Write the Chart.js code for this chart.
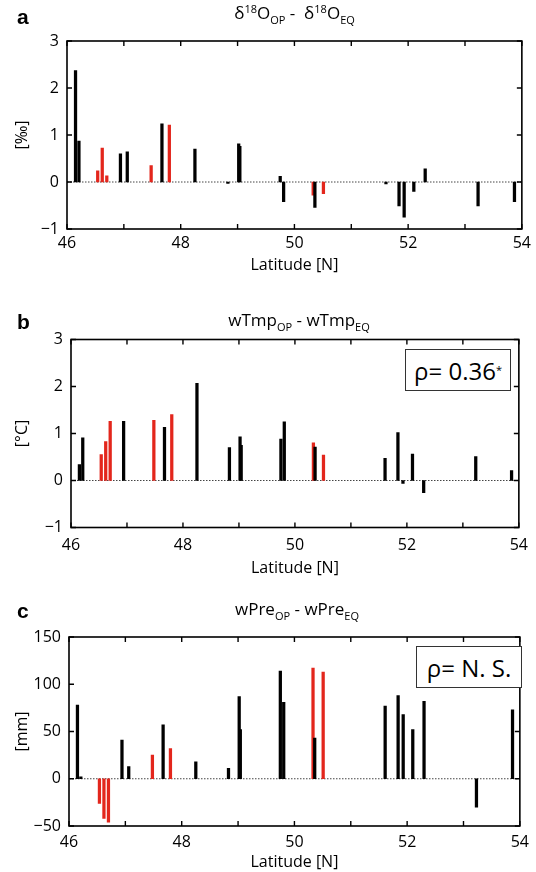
<!DOCTYPE html>
<html>
<head>
<meta charset="utf-8">
<script src="https://cdn.jsdelivr.net/npm/chart.js@4.4.1/dist/chart.umd.min.js"></script>
<style>
  body { margin: 0; background: #fff; }
  #wrap { position: relative; width: 536px; height: 872px; overflow: hidden; font-family: "Open Sans", sans-serif; }
  canvas { position: absolute; left: 0; }
  .ttl { position: absolute; text-align: center; font-size: 17px; line-height: 20px; white-space: pre; color: #000; }
  .ttl sub { font-size: 11px; vertical-align: -5px; line-height: 0; }
  .ttl sup { font-size: 11px; vertical-align: 6px; line-height: 0; }
  .lett { position: absolute; left: 17px; font: bold 21px "Liberation Sans", Arial, sans-serif; line-height: 20px; }
  .rho { position: absolute; border: 1px solid #333; background: #fff; display: flex; align-items: center; justify-content: center; font-size: 24px; }
  .rho sup { font-size: 11px; vertical-align: 10px; line-height: 0; }
</style>
</head>
<body>
<div id="wrap">
  <canvas id="chartA" width="536" height="285"></canvas>
  <canvas id="chartB" width="536" height="290"></canvas>
  <canvas id="chartC" width="536" height="292"></canvas>

  <div class="lett" style="top:7px">a</div>
  <div class="lett" style="top:312px">b</div>
  <div class="lett" style="top:601px">c</div>

  <div class="ttl" style="left:67px; width:455px; top:3px">δ<sup>18</sup>O<sub>OP</sub> -  δ<sup>18</sup>O<sub>EQ</sub></div>
  <div class="ttl" style="left:71px; width:456px; top:310px">wTmp<sub>OP</sub> - wTmp<sub>EQ</sub></div>
  <div class="ttl" style="left:69px; width:456px; top:599px">wPre<sub>OP</sub> - wPre<sub>EQ</sub></div>

  <div class="rho" style="left:405px; top:349px; width:104px; height:40px">ρ= 0.36<sup>*</sup></div>
  <div class="rho" style="left:416px; top:646px; width:104px; height:40px">ρ= N. S.</div>
</div>

<script>
// station latitudes (same sites in all three panels)
var siteLat = [46.15, 46.21, 46.54, 46.62, 46.70, 46.94, 47.06, 47.48, 47.67, 47.80,
               48.25, 48.83, 49.02, 49.04, 49.75, 49.81, 50.33, 50.36, 50.51, 51.61,
               51.84, 51.93, 52.10, 52.30, 53.23, 53.87];
// 1 = red stem
var siteRed = [0, 0, 1, 1, 1, 0, 0, 1, 0, 1,
               0, 0, 0, 0, 0, 0, 1, 0, 1, 0,
               0, 0, 0, 0, 0, 0];

// a: d18O OP - EQ [permil]
var d18O = [2.37, 0.87, 0.24, 0.72, 0.13, 0.60, 0.64, 0.35, 1.24, 1.21,
            0.70, -0.03, 0.81, 0.76, 0.12, -0.42, -0.28, -0.54, -0.25, -0.04,
            -0.51, -0.75, -0.20, 0.28, -0.51, -0.42];
// b: wTmp OP - EQ [degC]
var wTmp = [0.34, 0.91, 0.55, 0.83, 1.26, 1.26, null, 1.28, 1.13, 1.40,
            2.07, 0.70, 0.93, 0.75, 0.88, 1.25, 0.80, 0.71, 0.54, 0.47,
            1.02, -0.06, 0.56, -0.26, 0.51, 0.21];
// c: wPre OP - EQ [mm]
var wPre = [78, 2, -26, -42, -46, 41, 13, 25, 57, 32,
            18, 11, 87, 52, 114, 81, 117, 43, 113, 77,
            88, 68, 52, 82, -30, 73];

var latTicks = [46, 48, 50, 52, 54];

var RED = "#e3261c";
var BLACK = "#000000";
var FONT = "'Open Sans', sans-serif";

// box, inward ticks and dotted zero line
var framePlugin = {
    id: "frame",
    beforeDatasetsDraw: function (chart) {
        var ctx = chart.ctx, a = chart.chartArea;
        var y0 = chart.scales.y.getPixelForValue(0);
        ctx.save();
        ctx.strokeStyle = "#444";
        ctx.lineWidth = 1;
        ctx.setLineDash([1.5, 1.5]);
        ctx.beginPath();
        ctx.moveTo(a.left, y0);
        ctx.lineTo(a.right, y0);
        ctx.stroke();
        ctx.restore();
    },
    afterDatasetsDraw: function (chart) {
        var ctx = chart.ctx, a = chart.chartArea;
        var sx = chart.scales.x, sy = chart.scales.y;
        var tl = 5;
        ctx.save();
        ctx.strokeStyle = "#000";
        ctx.lineWidth = 1.6;
        ctx.strokeRect(a.left, a.top, a.right - a.left, a.bottom - a.top);
        ctx.lineWidth = 1.4;
        ctx.beginPath();
        sx.ticks.forEach(function (t) {
            var px = sx.getPixelForValue(t.value);
            ctx.moveTo(px, a.bottom); ctx.lineTo(px, a.bottom - tl);
            ctx.moveTo(px, a.top); ctx.lineTo(px, a.top + tl);
        });
        sy.ticks.forEach(function (t) {
            var py = sy.getPixelForValue(t.value);
            ctx.moveTo(a.left, py); ctx.lineTo(a.left + tl, py);
            ctx.moveTo(a.right, py); ctx.lineTo(a.right - tl, py);
        });
        ctx.stroke();
        ctx.restore();
    }
};

function makeChart(id, p) {
    var pts = [];
    var cols = [];
    siteLat.forEach(function (lat, i) {
        if (p.values[i] === null) return;
        pts.push({ x: lat, y: p.values[i] });
        cols.push(siteRed[i] ? RED : BLACK);
    });
    var xH = p.height - (p.plotBottom - p.top);
    var titlePadBottom = Math.max(0, xH - p.titleGap - 9.6);

    return new Chart(document.getElementById(id), {
        type: "bar",
        data: {
            datasets: [{
                data: pts,
                backgroundColor: cols,
                borderWidth: 0,
                barThickness: 2.6
            }]
        },
        options: {
            responsive: false,
            animation: false,
            devicePixelRatio: 1,
            layout: {
                padding: { top: p.plotTop - p.top, right: 536 - p.right, bottom: 0, left: 0 }
            },
            plugins: {
                legend: { display: false },
                tooltip: { enabled: false }
            },
            scales: {
                x: {
                    type: "linear",
                    offset: false,
                    min: 46,
                    max: 54,
                    grid: { display: false, drawTicks: false },
                    border: { display: false },
                    ticks: {
                        stepSize: 1,
                        autoSkip: false,
                        maxRotation: 0,
                        padding: p.tickPad,
                        color: "#000",
                        font: { family: FONT, size: 16 },
                        callback: function (v) { return latTicks.indexOf(v) >= 0 ? String(v) : ""; }
                    },
                    title: {
                        display: true,
                        text: "Latitude [N]",
                        color: "#000",
                        font: { family: FONT, size: 16 },
                        padding: { top: 0, bottom: titlePadBottom }
                    },
                    afterFit: function (s) { s.height = xH; }
                },
                y: {
                    min: p.yMin,
                    max: p.yMax,
                    grid: { display: false, drawTicks: false },
                    border: { display: false },
                    ticks: {
                        stepSize: p.yStep,
                        padding: 8,
                        color: "#000",
                        font: { family: FONT, size: 16 },
                        callback: function (v) { return v < 0 ? "\u2212" + Math.abs(v) : String(v); }
                    },
                    title: {
                        display: true,
                        text: p.yLabel,
                        color: "#000",
                        font: { family: FONT, size: 16 },
                        padding: { top: 13, bottom: 0 }
                    },
                    afterFit: function (s) { s.width = p.left; }
                }
            }
        },
        plugins: [framePlugin]
    });
}

document.addEventListener("DOMContentLoaded", function () {
    var boxes = [
        { id: "chartA", top: 0,   height: 285, left: 67, right: 522, plotTop: 41,    plotBottom: 229,   tickPad: 5, titleGap: 36,
          values: d18O, yMin: -1,  yMax: 3,   yStep: 1,  yLabel: "[‰]" },
        { id: "chartB", top: 290, height: 290, left: 71, right: 527, plotTop: 339.5, plotBottom: 527.5, tickPad: 8, titleGap: 40.5,
          values: wTmp, yMin: -1,  yMax: 3,   yStep: 1,  yLabel: "[°C]" },
        { id: "chartC", top: 580, height: 292, left: 69, right: 525, plotTop: 637,   plotBottom: 826,   tickPad: 7, titleGap: 36.5,
          values: wPre, yMin: -50, yMax: 150, yStep: 50, yLabel: "[mm]" }
    ];
    boxes.forEach(function (b) {
        var el = document.getElementById(b.id);
        el.style.top = b.top + "px";
        makeChart(b.id, b);
    });
});
</script>
</body>
</html>
